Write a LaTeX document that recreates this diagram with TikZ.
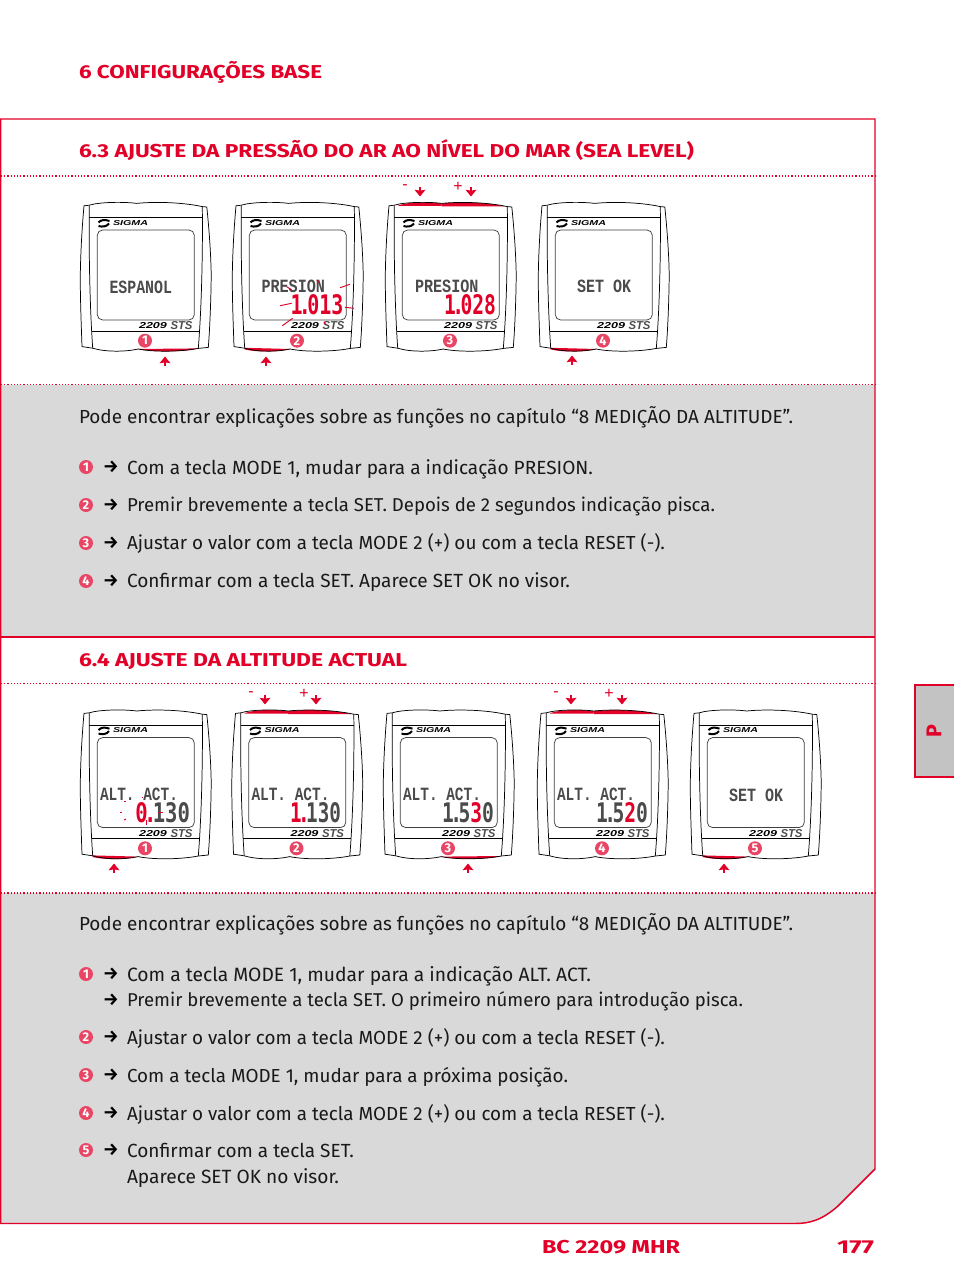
\documentclass[tikz,border=0pt]{standalone}
\usepackage{fontspec}
\usepackage{graphicx}
\usetikzlibrary{arrows.meta}
\setmainfont{Fira Sans}
\newfontfamily\lcdf{Liberation Mono}
\newfontfamily\digf{DejaVu Sans Mono}
\newfontfamily\logof{Liberation Sans}
\definecolor{pred}{RGB}{226,0,40}
\definecolor{pcirc}{RGB}{232,70,100}
\definecolor{pgray}{RGB}{217,217,217}
\definecolor{tabgray}{RGB}{195,195,195}
\definecolor{lcdgray}{RGB}{75,75,75}
\newlength\pxu \setlength\pxu{0.75pt}
\newcommand{\dt}{\kern-.18em.\kern-.18em}
\tikzset{
  redline/.style={pred,line width=1.1pt},
  dotline/.style={pred,line width=0.9pt,dash pattern=on 0.9pt off 1.5pt},
  devline/.style={black,line width=0.55pt},
  pressarrow/.style={pred,line width=2pt,-{Stealth[length=5pt,width=8pt,inset=0.6pt]}},
  blink/.style={pred,line width=0.7pt},
  txt/.style={anchor=base west,inner sep=0pt,outer sep=0pt},
  ctr/.style={anchor=center,inner sep=0pt,outer sep=0pt}
}
% body line: x, baseline, width, text
\newcommand{\bl}[4]{\node[txt,text=black!90] at (#1,#2) {\resizebox{#3\pxu}{!}{\fontsize{13.6pt}{16pt}\selectfont #4}};}
\newcommand{\hd}[4]{\node[txt,text=pred] at (#1,#2) {\resizebox{#3\pxu}{\height}{\fontsize{14pt}{16pt}\selectfont\bfseries #4}};}
% lcd text: x1, width, cy, height, content
\newcommand{\lcd}[5]{\node[ctr,text=lcdgray] at (#1+#2/2,#3) {\resizebox{#2\pxu}{#4\pxu}{\lcdf\bfseries #5}};}
\newcommand{\lcdd}[5]{\node[ctr,text=lcdgray] at (#1+#2/2,#3) {\resizebox{#2\pxu}{#4\pxu}{\digf\bfseries #5}};}
\newcommand{\stepmark}[3]{%
  \fill[pcirc] (#1,#2) circle (7);
  \node[ctr,text=white] at (#1,#2) {\fontsize{9.5pt}{9pt}\selectfont\bfseries #3};}
\newcommand{\rarr}[1]{\node[ctr,text=black] at (111,#1) {\fontsize{13pt}{10pt}\selectfont\bfseries →};}
\newcommand{\uparr}[2]{\coordinate (ua) at (#1,#2+4.8); \coordinate (ub) at (#1,#2-4.5); \draw[pressarrow] (ua) -- (ub);}
\newcommand{\dnarr}[2]{\coordinate (ua) at (#1,#2-4.8); \coordinate (ub) at (#1,#2+4.5); \draw[pressarrow] (ua) -- (ub);}
\newcommand{\sgn}[3]{\node[ctr,text=pred] at (#1,#2) {\logof\fontsize{12pt}{12pt}\selectfont #3};}
% device: ox, oy, number, tl, tr, bl, br colours, circle dx
\newcommand{\device}[8]{%
\begin{scope}[shift={(#1,#2)}]
  \fill[#4] (13,2.6) .. controls (22,-1.2) and (45,-1.2) .. (56.7,0.6) -- (56.7,3) -- (13,3) -- cycle;
  \fill[#5] (56.7,0.6) .. controls (72,-1.2) and (100,-1.2) .. (120,3.4) -- (56.7,3.4) -- cycle;
  \fill[#6] (12.7,144.8) -- (58.3,146) .. controls (45,149.2) and (25,149.2) .. (12.7,146.5) -- cycle;
  \fill[#7] (58.3,146) -- (118.3,145.4) .. controls (105,149.2) and (72,149.2) .. (58.3,146) -- cycle;
  % outer body
  \draw[devline] (9.3,2.2) .. controls (20,-1.2) and (45,-1.2) .. (56.7,0.4)
     .. controls (72,-1.2) and (100,-1.2) .. (122.3,3.6)
     -- (126.8,4) .. controls (129.5,30) and (131,55) .. (131.2,72)
     .. controls (131,100) and (129.5,130) .. (128.3,144.4)
     -- (118.3,145.4) .. controls (100,149) and (72,149) .. (58.3,146)
     .. controls (45,149) and (25,149) .. (12.7,145.2)
     -- (2,143.6) .. controls (0.8,110) and (0.2,90) .. (0.3,72)
     .. controls (0.6,50) and (2,25) .. (4,2.8) -- cycle;
  \draw[devline] (9.3,2.6) .. controls (8.8,40) and (9.5,100) .. (12.7,145);
  \draw[devline] (122.3,3.7) .. controls (122.8,40) and (122,100) .. (118.3,145.3);
  \draw[devline] (9.3,14.3) -- (122.4,14.3);
  \draw[devline] (11.5,128) -- (119.7,128);
  \draw[black!75,line width=0.55pt,rounded corners=4pt] (17.3,27) rectangle (114.3,117);
  % logo
  \draw[black,line width=1.5pt] (18.5,19.5) .. controls (21,16.5) and (25,16.5) .. (29.5,18);
  \draw[black,line width=1.5pt] (18.5,23) .. controls (22,24) and (26.5,24) .. (29,20.5);
  \node[ctr,text=black] at (50.5,19.8) {\resizebox{35\pxu}{5\pxu}{\logof\itshape\bfseries SIGMA}};
  \node[ctr,text=black] at (73,123) {\resizebox{28\pxu}{6\pxu}{\logof\itshape\bfseries 2209}};
  \node[ctr,text=black!70] at (101.5,123) {\resizebox{22\pxu}{8\pxu}{\logof\itshape\bfseries STS}};
  \stepmark{#8}{137.7}{#3}
\end{scope}}
\begin{document}
\begin{tikzpicture}[x=0.75pt,y=-0.75pt]
\useasboundingbox (0,0) rectangle (954,1273);
\fill[white] (0,0) rectangle (954,1273);
% grey areas
\fill[pgray] (1,385) rectangle (875,637);
\fill[pgray] (1,893) -- (875,893) -- (875,1169) -- (838,1206) .. controls (822,1220) and (810,1223.5) .. (795,1223.5) -- (1,1223.5) -- cycle;
% frame
\draw[redline] (0.7,119) -- (875,119) -- (875,1169) -- (838,1206) .. controls (822,1220) and (810,1223.5) .. (795,1223.5) -- (0.7,1223.5) -- cycle;
\draw[redline] (1,637) -- (875,637);
\draw[dotline] (1,176) -- (875,176);
\draw[dotline] (1,384.5) -- (875,384.5);
\draw[dotline] (1,683.5) -- (875,683.5);
\draw[dotline] (1,893) -- (875,893);
% side tab
\fill[tabgray] (915,685) rectangle (954,777);
\draw[pred,line width=1.3pt] (954,685) -- (915,685) -- (915,777) -- (954,777);
\node[ctr,text=pred,rotate=90] (tab) at (934,731) {\fontsize{16pt}{16pt}\selectfont\bfseries P};
% headings
\hd{79}{78.2}{243}{6 CONFIGURAÇÕES BASE}
\hd{79}{157.5}{615}{6.3 AJUSTE DA PRESSÃO DO AR AO NÍVEL DO MAR (SEA LEVEL)}
\hd{79}{666.5}{328}{6.4 AJUSTE DA ALTITUDE ACTUAL}
\hd{542}{1253.5}{138}{BC 2209 MHR}
\hd{837}{1253.5}{37}{177}
% section 1 text
\bl{79}{423.5}{714}{Pode encontrar explicações sobre as funções no capítulo “8 MEDIÇÃO DA ALTITUDE”.}
\stepmark{86}{467}{1}\rarr{467}
\bl{127}{474}{466}{Com a tecla MODE 1, mudar para a indicação PRESION.}
\stepmark{86}{505}{2}\rarr{505}
\bl{127}{511.5}{588}{Premir brevemente a tecla SET. Depois de 2 segundos indicação pisca.}
\stepmark{86}{543}{3}\rarr{543}
\bl{127}{549.5}{538}{Ajustar o valor com a tecla MODE 2 (+) ou com a tecla RESET (-).}
\stepmark{86}{581}{4}\rarr{581}
\bl{127}{587.5}{443}{Confirmar com a tecla SET. Aparece SET OK no visor.}
% section 2 text
\bl{79}{930.5}{714}{Pode encontrar explicações sobre as funções no capítulo “8 MEDIÇÃO DA ALTITUDE”.}
\stepmark{86}{974}{1}\rarr{974}
\bl{127}{981}{464}{Com a tecla MODE 1, mudar para a indicação ALT. ACT.}
\rarr{1000}
\bl{127}{1006.5}{616}{Premir brevemente a tecla SET. O primeiro número para introdução pisca.}
\stepmark{86}{1037}{2}\rarr{1037}
\bl{127}{1044}{538}{Ajustar o valor com a tecla MODE 2 (+) ou com a tecla RESET (-).}
\stepmark{86}{1075}{3}\rarr{1075}
\bl{127}{1082}{441}{Com a tecla MODE 1, mudar para a próxima posição.}
\stepmark{86}{1113}{4}\rarr{1113}
\bl{127}{1120}{538}{Ajustar o valor com a tecla MODE 2 (+) ou com a tecla RESET (-).}
\stepmark{86}{1150}{5}\rarr{1150}
\bl{127}{1157}{227}{Confirmar com a tecla SET.}
\bl{127}{1183}{212}{Aparece SET OK no visor.}
% section 1 devices
\device{80}{203}{1}{white}{white}{white}{pred}{65}
\device{232}{203}{2}{white}{white}{pred}{white}{65}
\device{385}{203}{3}{pred}{pred}{white}{white}{65}
\device{538}{203}{4}{white}{white}{pred}{white}{65}
\lcd{109.5}{62.5}{287}{12.5}{ESPANOL}
\lcd{261.5}{63.5}{286}{12.5}{PRESION}
\lcdd{290.5}{53}{304.5}{20}{\color{pred}1\dt 013}
\lcd{415}{63.5}{286}{12.5}{PRESION}
\lcdd{444}{52}{304.5}{20}{\color{pred}1\dt 028}
\lcd{577}{54}{286}{12.5}{SET OK}
% blink marks device 2
\draw[blink] (286.7,286.7) -- (291.7,290);
\draw[blink] (316.7,280) -- (320,283.3);
\draw[blink] (340,287.7) -- (350,284.3);
\draw[blink] (280,305.7) -- (291.7,303.3);
\draw[blink] (345,307.3) -- (354,308.3);
\draw[blink] (282.3,325.7) -- (292.7,318.3);
\draw[blink] (324,321.7) -- (326,325);
\uparr{165}{361}
\uparr{266}{361}
\dnarr{420}{192}\dnarr{471}{192}
\sgn{405}{187}{-}\sgn{458}{186.5}{+}
\uparr{572}{360}
% section 2 devices
\device{80}{710.6}{1}{white}{white}{pred}{white}{65}
\device{231.5}{710.6}{2}{pred}{pred}{white}{white}{65}
\device{383}{710.6}{3}{white}{white}{white}{pred}{65}
\device{537}{710.6}{4}{pred}{pred}{white}{white}{65}
\device{690}{710.6}{5}{white}{white}{pred}{white}{65}
\lcd{100}{78}{794}{12.5}{ALT. ACT.}
\lcdd{135.5}{54.5}{812.5}{20}{\color{pred}0\dt\color{lcdgray}130}
\lcd{251.5}{78}{794}{12.5}{ALT. ACT.}
\lcdd{290}{51}{812.5}{20}{\color{pred}1\dt\color{lcdgray}130}
\lcd{403}{78}{794}{12.5}{ALT. ACT.}
\lcdd{442}{52}{812.5}{20}{1\dt 5\color{pred}3\color{lcdgray}0}
\lcd{557}{78}{794}{12.5}{ALT. ACT.}
\lcdd{596}{52}{812.5}{20}{1\dt 5\color{pred}2\color{lcdgray}0}
\lcd{729}{54}{795}{12.5}{SET OK}
% blink marks device 1 of 6.4
\draw[blink] (124,801) -- (126,801);
\draw[blink] (142,797.5) -- (143,797.5);
\draw[blink] (120,812) -- (122,812);
\draw[blink] (124,820) -- (126,819);
\draw[blink] (146,820) -- (146,825);
\draw[blink] (158,812.7) -- (163,812.7);
\uparr{114}{868}
\dnarr{265}{700}\dnarr{316}{700}
\sgn{251}{694}{-}\sgn{304}{694}{+}
\uparr{468}{868}
\dnarr{571}{700}\dnarr{622}{700}
\sgn{556}{694}{-}\sgn{609}{694}{+}
\uparr{724}{868}
\end{tikzpicture}
\end{document}
